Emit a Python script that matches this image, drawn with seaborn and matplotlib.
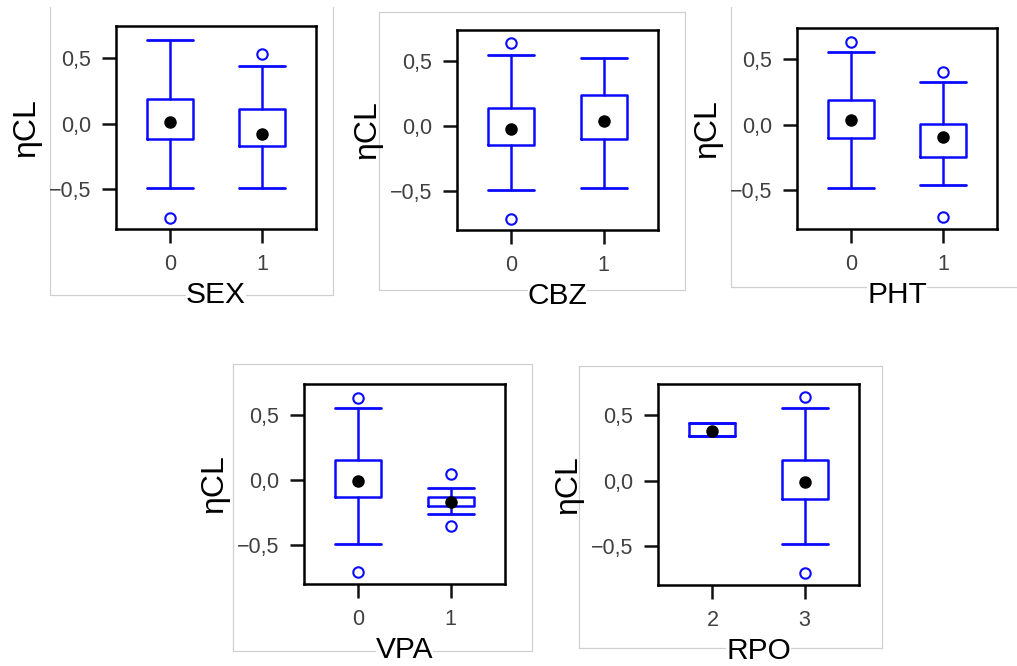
import matplotlib
matplotlib.use("Agg")
import matplotlib.pyplot as plt
from matplotlib.lines import Line2D
from matplotlib.ticker import FuncFormatter, FixedLocator
import seaborn as sns

# ---- data: covariate screening of eta on clearance (ηCL) ----
COVARIATES = ["SEX", "CBZ", "PHT", "VPA", "RPO"]

LEVELS = {
    "SEX": ["0", "1"],
    "CBZ": ["0", "1"],
    "PHT": ["0", "1"],
    "VPA": ["0", "1"],
    "RPO": ["2", "3"],
}
WHISKER_LOW = {
    "SEX": [-0.490, -0.490],
    "CBZ": [-0.495, -0.480],
    "PHT": [-0.487, -0.461],
    "VPA": [-0.490, -0.264],
    "RPO": [0.342, -0.487],
}
Q1 = {
    "SEX": [-0.120, -0.167],
    "CBZ": [-0.148, -0.102],
    "PHT": [-0.100, -0.250],
    "VPA": [-0.130, -0.200],
    "RPO": [0.342, -0.143],
}
Q3 = {
    "SEX": [0.185, 0.108],
    "CBZ": [0.140, 0.237],
    "PHT": [0.189, 0.002],
    "VPA": [0.158, -0.133],
    "RPO": [0.444, 0.156],
}
WHISKER_HIGH = {
    "SEX": [0.633, 0.433],
    "CBZ": [0.550, 0.528],
    "PHT": [0.553, 0.329],
    "VPA": [0.553, -0.062],
    "RPO": [0.444, 0.559],
}
MEANS = {
    "SEX": [0.012, -0.080],
    "CBZ": [-0.025, 0.038],
    "PHT": [0.038, -0.092],
    "VPA": [-0.008, -0.169],
    "RPO": [0.383, -0.010],
}
OUTLIERS = {
    "SEX": [[-0.713], [0.530]],
    "CBZ": [[0.640, -0.712], []],
    "PHT": [[0.635], [0.400, -0.706]],
    "VPA": [[0.635, -0.709], [0.044, -0.355]],
    "RPO": [[], [0.638, -0.709]],
}
Y_TICKS = [-0.5, 0.0, 0.5]
Y_LABEL = "ηCL"

# ---- figure layout (pixels) ----
W, H = 1017, 666
AXES_PX = {  # left, top, right, bottom
    "SEX": (116, 26, 316, 229),
    "CBZ": (457, 30, 658, 230),
    "PHT": (797, 28, 997, 229),
    "VPA": (304, 384, 505, 584),
    "RPO": (658, 384, 859, 585),
}
FRAME_SEGMENTS = [
    # panel frames around each plot
    ((50, 7), (50, 295)), ((333, 7), (333, 295)), ((50, 295), (333, 295)),
    ((379, 12), (685, 12)), ((379, 12), (379, 290)), ((685, 12), (685, 290)),
    ((379, 290), (685, 290)),
    ((731, 7), (731, 287)), ((731, 287), (1017, 287)),
    ((233, 364), (532, 364)), ((233, 364), (233, 651)), ((532, 364), (532, 651)),
    ((233, 651), (532, 651)),
    ((579, 366), (882, 366)), ((579, 366), (579, 648)), ((882, 366), (882, 648)),
    ((579, 648), (882, 648)),
]

BLUE = "#0a0aff"

sns.set_theme(style="white")
plt.rcParams["font.family"] = ["Liberation Sans", "DejaVu Sans"]

fig = plt.figure(figsize=(W / 100, H / 100), dpi=100)
fig.patch.set_facecolor("white")

for (x0, y0), (x1, y1) in FRAME_SEGMENTS:
    fig.add_artist(Line2D([x0 / W, x1 / W], [1 - y0 / H, 1 - y1 / H],
                          transform=fig.transFigure, color="#d0d0d0",
                          lw=0.9, zorder=-1))


def fmt_tick(v, _pos):
    return f"{v:.1f}".replace(".", ",").replace("-", "\u2212")


for cov in COVARIATES:
    l, t, r, b = AXES_PX[cov]
    ax = fig.add_axes([l / W, 1 - b / H, (r - l) / W, (b - t) / H])

    stats = []
    for i, lev in enumerate(LEVELS[cov]):
        stats.append(dict(
            label=lev,
            whislo=WHISKER_LOW[cov][i], q1=Q1[cov][i],
            med=MEANS[cov][i], q3=Q3[cov][i],
            whishi=WHISKER_HIGH[cov][i], fliers=OUTLIERS[cov][i],
        ))
    ax.bxp(stats, positions=range(len(stats)), widths=0.5, capwidths=0.5,
           showmeans=False, patch_artist=False,
           boxprops=dict(color=BLUE, lw=1.8),
           whiskerprops=dict(color=BLUE, lw=1.8),
           capprops=dict(color=BLUE, lw=2.0),
           medianprops=dict(visible=False),
           flierprops=dict(marker="o", markerfacecolor="none",
                           markeredgecolor=BLUE, markersize=7.5,
                           markeredgewidth=1.5))

    sns.stripplot(x=LEVELS[cov], y=MEANS[cov], jitter=False, color="black",
                  size=9, linewidth=0, ax=ax, zorder=5)

    ax.set_xlim(-0.59, 1.59)
    ax.set_ylim(-0.80, 0.74)
    ax.yaxis.set_major_locator(FixedLocator(Y_TICKS))
    ax.yaxis.set_major_formatter(FuncFormatter(fmt_tick))
    ax.set_xticks(range(len(LEVELS[cov])))
    ax.set_xticklabels(LEVELS[cov])

    for sp in ax.spines.values():
        sp.set_visible(True)
        sp.set_color("black")
        sp.set_linewidth(1.8)
    ax.tick_params(axis="both", direction="out", length=10, width=1.8,
                   color="#111111", labelsize=15.5, labelcolor="#404040",
                   pad=8, left=True, bottom=True)

    ax.set_xlabel(cov, fontsize=21.5, color="black", labelpad=4,
                  bbox=dict(facecolor="white", edgecolor="none", pad=0))
    ax.set_ylabel(Y_LABEL, fontsize=23, color="black", labelpad=5)
    ax.grid(False)

fig.savefig("out.png", dpi=100, facecolor="white")
